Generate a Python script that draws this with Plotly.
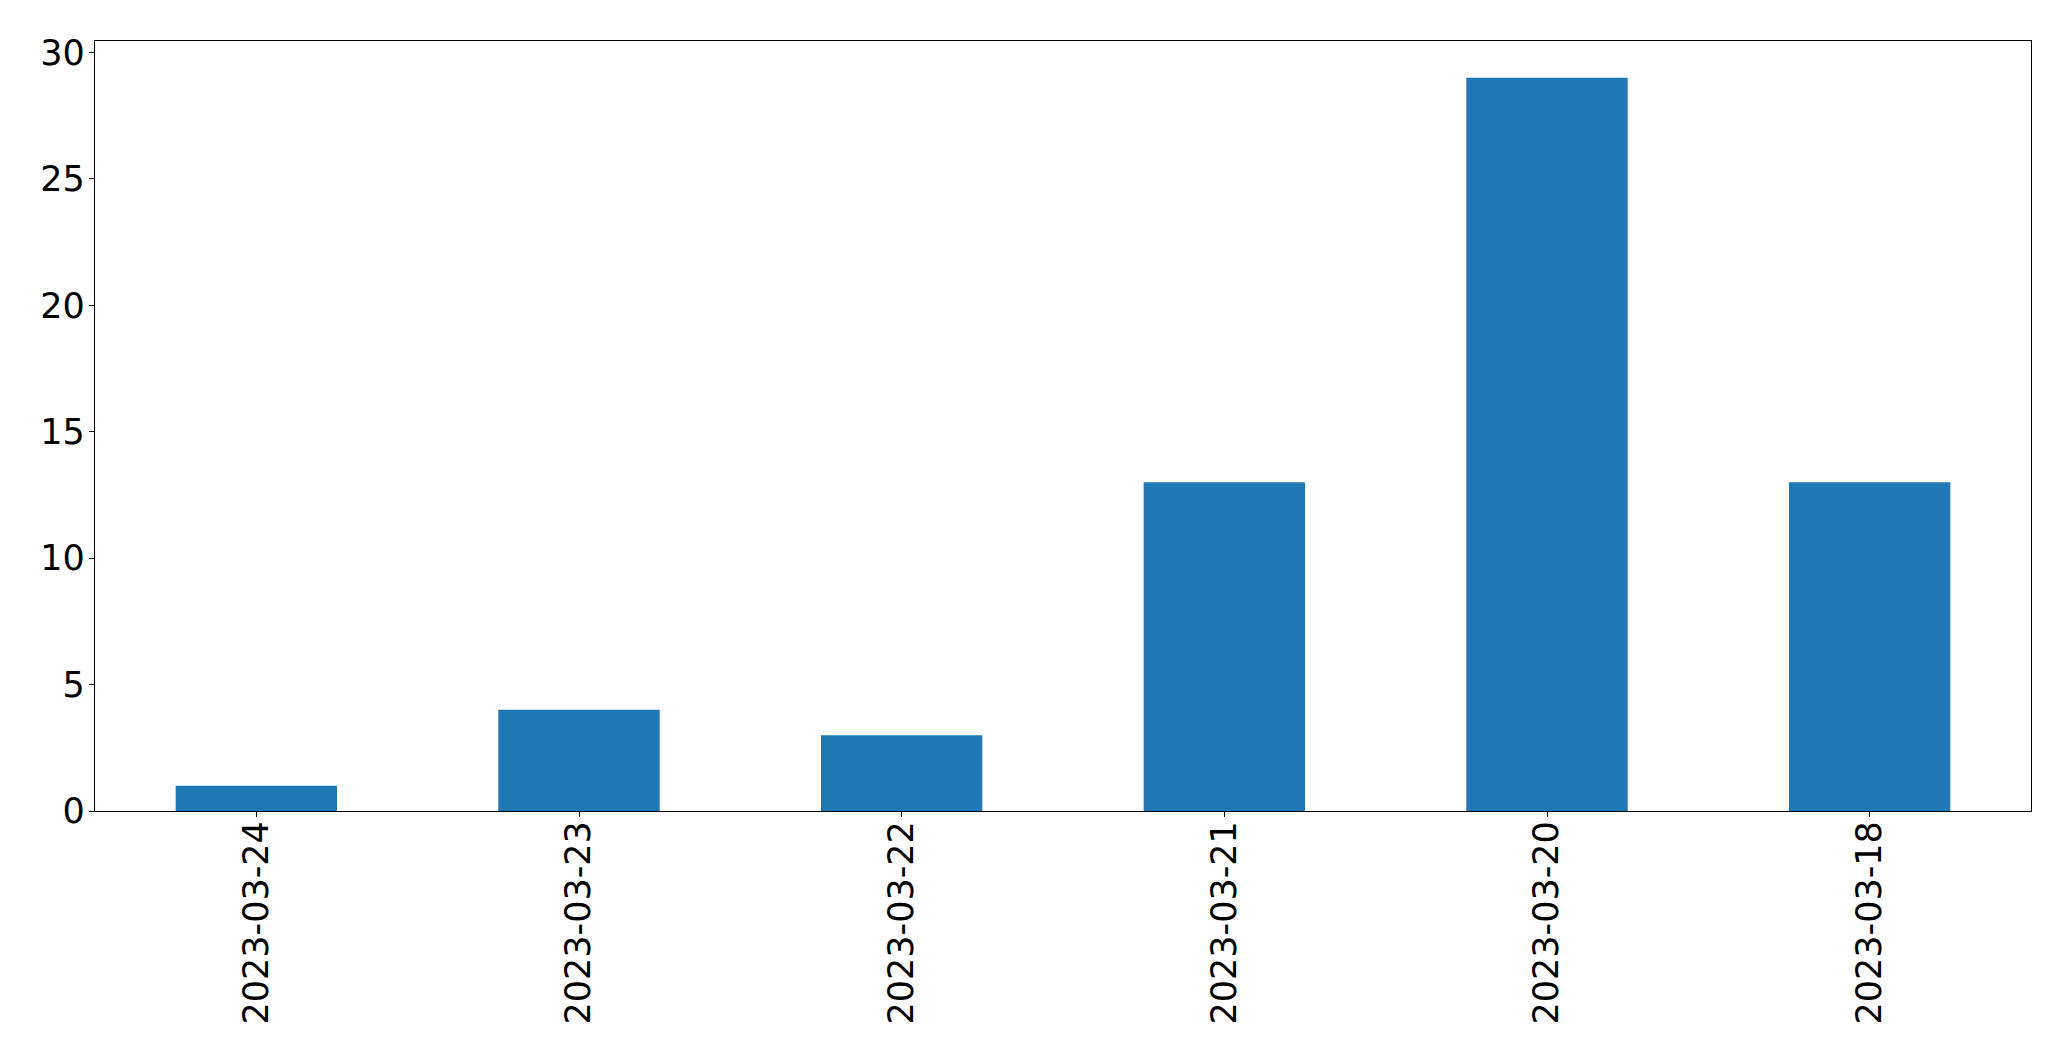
import plotly.graph_objects as go

categories = ["2023-03-24", "2023-03-23", "2023-03-22", "2023-03-21", "2023-03-20", "2023-03-18"]
values = [1, 4, 3, 13, 29, 13]
y_ticks = [0, 5, 10, 15, 20, 25, 30]

fig = go.Figure()
fig.add_trace(go.Bar(x=categories, y=values, marker=dict(color="#1f77b4", line=dict(width=0)), width=0.5))

font = dict(family="DejaVu Sans", size=35, color="black")
fig.update_layout(
    width=2055, height=1047, autosize=False,
    margin=dict(l=87, r=32, t=33, b=244, pad=0),
    paper_bgcolor="white", plot_bgcolor="white",
    showlegend=False, font=font, bargap=0.5,
)
fig.update_xaxes(
    type="category", range=[-0.5, 5.5], tickangle=-90, tickfont=font,
    showline=True, mirror=True, linecolor="black", linewidth=1.3,
    ticks="outside", ticklen=5, tickwidth=1.3, tickcolor="black",
    showgrid=False, zeroline=False, ticklabelstandoff=-10,
)
fig.update_yaxes(
    range=[0, 30.45], tickvals=y_ticks, ticktext=[str(v) for v in y_ticks], tickfont=font,
    showline=True, mirror=True, linecolor="black", linewidth=1.3,
    ticks="outside", ticklen=5, tickwidth=1.3, tickcolor="black",
    showgrid=False, zeroline=False, ticklabelstandoff=-3,
)
fig.write_html("out.html")
